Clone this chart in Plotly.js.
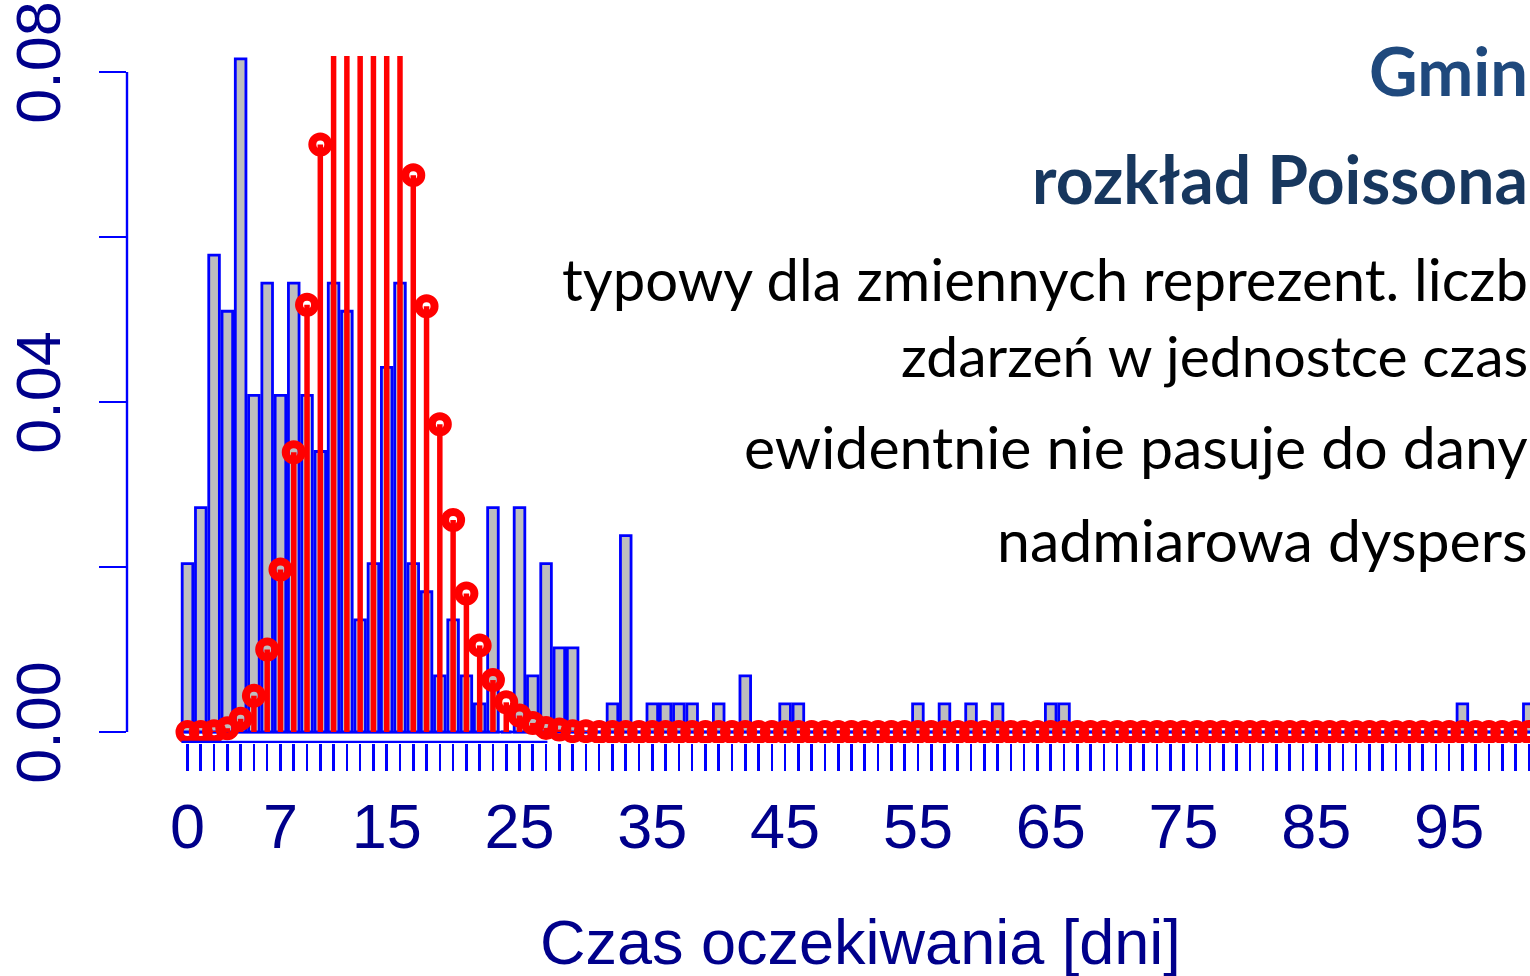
<!DOCTYPE html>
<html>
<head>
<meta charset="utf-8">
<script src="https://cdn.plot.ly/plotly-3.0.1.min.js"></script>
<style>
  html, body { margin: 0; padding: 0; overflow: hidden; background: #ffffff; }
  #chart { width: 1530px; height: 976px; }
</style>
</head>
<body>
<div id="chart"></div>
<script>
// Waiting time in days (integer categories)
const days = [0,1,2,3,4,5,6,7,8,9,10,11,12,13,14,15,16,17,18,19,20,
  21,22,23,24,25,26,27,28,29,30,31,32,33,34,35,36,37,38,39,40,
  41,42,43,44,45,46,47,48,49,50,51,52,53,54,55,56,57,58,59,60,
  61,62,63,64,65,66,67,68,69,70,71,72,73,74,75,76,77,78,79,80,
  81,82,83,84,85,86,87,88,89,90,91,92,93,94,95,96,97,98,99,100,101,102];

// Observed relative frequency (density) for each day
const observedDensity = [0.0204,0.0272,0.0578,0.0510,0.0816,0.0408,0.0544,0.0408,0.0544,0.0408,0.0340,
  0.0544,0.0510,0.0136,0.0204,0.0442,0.0544,0.0204,0.0170,0.0068,0.0136,
  0.0068,0.0034,0.0272,0,0.0272,0.0068,0.0204,0.0102,0.0102,0,
  0,0.0034,0.0238,0,0.0034,0.0034,0.0034,0.0034,0,0.0034,
  0,0.0068,0,0,0.0034,0.0034,0,0,0,0,
  0,0,0,0,0.0034,0,0.0034,0,0.0034,0,
  0.0034,0,0,0,0.0034,0.0034,0,0,0,0,
  0,0,0,0,0,0,0,0,0,0,
  0,0,0,0,0,0,0,0,0,0,
  0,0,0,0,0,0.0034,0,0,0,0,0.0034,0];

// Fitted Poisson probabilities for each day
const poissonProb = [0.000001,0.000015,0.0001,0.00046,0.0016,0.0044,0.0100,0.0197,0.0339,0.0518,0.0712,
  0.0890,0.1020,0.1079,0.1060,0.0971,0.0835,0.0675,0.0516,0.0373,0.0257,
  0.0168,0.0105,0.0063,0.0036,0.0020,0.0011,0.0005,0.0003,0.0001,0.0001,
  0,0,0,0,0,0,0,0,0,0,
  0,0,0,0,0,0,0,0,0,0,
  0,0,0,0,0,0,0,0,0,0,
  0,0,0,0,0,0,0,0,0,0,
  0,0,0,0,0,0,0,0,0,0,
  0,0,0,0,0,0,0,0,0,0,
  0,0,0,0,0,0,0,0,0,0,0,0];

// Labelled ticks on the x axis
const xLabelled = [0,7,15,25,35,45,55,65,75,85,95];
// y-axis ticks and their labels
const yTickVals = [0,0.02,0.04,0.06,0.08];
const yTickText = ['0.00','','0.04','','0.08'];

const titleLines = ['Gmin', 'rozkład Poissona'];
const noteLines = ['typowy dla zmiennych reprezent. liczb', 'zdarzeń w jednostce czas',
  'ewidentnie nie pasuje do dany', 'nadmiarowa dyspers'];
const xTitle = 'Czas oczekiwania [dni]';

const AXIS_BLUE = '#0000FF';
const NAVY = '#00008B';
const RED = '#FF0000';

const stemX = [], stemY = [];
days.forEach((d, i) => { stemX.push(d, d, null); stemY.push(0, poissonProb[i], null); });

const traces = [
  {
    type: 'bar', x: days, y: observedDensity, width: 0.8,
    marker: { color: '#BEBEBE', line: { color: AXIS_BLUE, width: 2.8 } },
    hoverinfo: 'skip', showlegend: false
  },
  {
    type: 'scatter', mode: 'lines', x: stemX, y: stemY,
    line: { color: RED, width: 5.5 }, hoverinfo: 'skip', showlegend: false
  },
  {
    type: 'scatter', mode: 'markers', x: days, y: poissonProb, cliponaxis: true,
    marker: { symbol: 'circle-open', size: 16, color: RED, line: { color: RED, width: 8 } },
    hoverinfo: 'skip', showlegend: false
  }
];

const PLOT_TOP = 56, PLOT_BOTTOM = 743, H = PLOT_BOTTOM - PLOT_TOP;
const py = p => (PLOT_BOTTOM - p) / H; // pixel row -> paper y

const annFont = 'Lato, "Open Sans", sans-serif';
const annotations = [
  { text: '<b>' + titleLines[0] + '</b>', x: 1, y: py(70), font: { family: annFont, size: 67, color: '#1F497D' } },
  { text: '<b>' + titleLines[1] + '</b>', x: 1, y: py(178), font: { family: annFont, size: 66, color: '#17375E' } },
  { text: noteLines[0], x: 1, y: py(278), font: { family: annFont, size: 58, color: '#000000' } },
  { text: noteLines[1], x: 1, y: py(355), font: { family: annFont, size: 57, color: '#000000' } },
  { text: noteLines[2], x: 1, y: py(446), font: { family: annFont, size: 59, color: '#000000' } },
  { text: noteLines[3], x: 1, y: py(539), font: { family: annFont, size: 59, color: '#000000' } }
].map(a => Object.assign({ xref: 'paper', yref: 'paper', xanchor: 'right', yanchor: 'middle', showarrow: false }, a));

annotations.push({
  text: xTitle, xref: 'paper', yref: 'paper', x: (860 - 127) / 1403, y: py(942),
  xanchor: 'center', yanchor: 'middle', showarrow: false,
  font: { family: '"Liberation Sans", Arial, sans-serif', size: 63, color: NAVY }
});

const layout = {
  width: 1530, height: 976,
  margin: { l: 127, r: 0, t: PLOT_TOP, b: 976 - PLOT_BOTTOM, pad: 0 },
  paper_bgcolor: '#ffffff', plot_bgcolor: '#ffffff',
  showlegend: false, bargap: 0,
  xaxis: {
    range: [-4.556, 101.09], tickmode: 'array', tickvals: days,
    ticktext: days.map(d => xLabelled.includes(d) ? String(d) : ''),
    ticks: 'outside', ticklen: 27, tickwidth: 2.6, tickcolor: AXIS_BLUE,
    showline: false, showgrid: false, zeroline: false, ticklabelstandoff: 1,
    tickfont: { family: '"Liberation Sans", Arial, sans-serif', size: 63, color: NAVY }
  },
  yaxis: {
    range: [-11 / 8250, 676 / 8250], tickmode: 'array', tickvals: yTickVals, ticktext: yTickText,
    ticks: 'outside', ticklen: 27, tickwidth: 2.4, tickcolor: AXIS_BLUE, tickangle: -90,
    showline: false, showgrid: false, zeroline: false, ticklabelstandoff: 14,
    tickfont: { family: '"Liberation Sans", Arial, sans-serif', size: 63, color: NAVY }
  },
  shapes: [
    { type: 'line', xref: 'paper', yref: 'y', x0: 0, x1: 0, y0: 0, y1: 0.08, line: { color: AXIS_BLUE, width: 2.4 } },
    { type: 'line', xref: 'x', yref: 'y', x0: -0.4, x1: 102, y0: 0, y1: 0, layer: 'below', line: { color: AXIS_BLUE, width: 2.6 } },
    { type: 'line', xref: 'x', yref: 'y', x0: -0.45, x1: 27.1, y0: -10 / 8250, y1: -10 / 8250, line: { color: AXIS_BLUE, width: 2.6 } }
  ],
  annotations: annotations
};

Plotly.newPlot('chart', traces, layout, { displayModeBar: false, staticPlot: true });
</script>
</body>
</html>
